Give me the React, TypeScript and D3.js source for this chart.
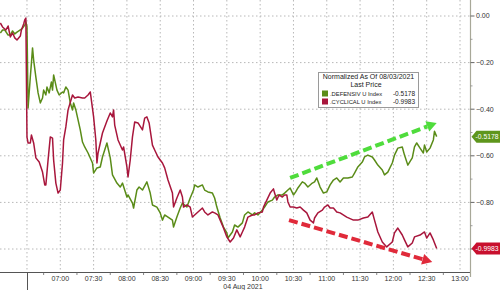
import React from "react";
import * as d3 from "d3";

// .DEFENSIV U Index (green) – [time, normalized value]
const defensiv: [string, number][] = [
  ["06:06", -0.073], ["06:08", -0.06], ["06:10", -0.06], ["06:13", -0.082], ["06:15", -0.082], ["06:17", -0.064],
  ["06:19", -0.077], ["06:21", -0.069], ["06:24", -0.06], ["06:26", -0.052], ["06:28", -0.039], ["06:29", -0.026],
  ["06:30", -0.045], ["06:31", -0.395], ["06:33", -0.262], ["06:34", -0.202], ["06:35", -0.137], ["06:36", -0.189],
  ["06:38", -0.262], ["06:40", -0.33], ["06:42", -0.373], ["06:44", -0.352], ["06:45", -0.318], ["06:47", -0.339],
  ["06:48", -0.305], ["06:50", -0.33], ["06:52", -0.283], ["06:53", -0.318], ["06:54", -0.253], ["06:57", -0.318],
  ["06:59", -0.339], ["07:02", -0.326], ["07:03", -0.33], ["07:05", -0.305], ["07:07", -0.318], ["07:09", -0.373],
  ["07:11", -0.403], ["07:12", -0.373], ["07:14", -0.403], ["07:16", -0.446], ["07:18", -0.489], ["07:20", -0.541],
  ["07:22", -0.562], ["07:25", -0.588], ["07:29", -0.631], ["07:30", -0.674], ["07:33", -0.652], ["07:36", -0.648],
  ["07:38", -0.605], ["07:42", -0.545], ["07:45", -0.609], ["07:47", -0.682], ["07:51", -0.717], ["07:54", -0.734],
  ["07:56", -0.717], ["08:00", -0.777], ["08:01", -0.768], ["08:05", -0.803], ["08:06", -0.824], ["08:09", -0.747],
  ["08:11", -0.734], ["08:14", -0.747], ["08:18", -0.712], ["08:21", -0.76], ["08:23", -0.811], ["08:27", -0.82],
  ["08:30", -0.845], ["08:32", -0.876], ["08:34", -0.854], ["08:37", -0.863], ["08:41", -0.876], ["08:42", -0.906],
  ["08:45", -0.863], ["08:48", -0.824], ["08:50", -0.803], ["08:54", -0.82], ["08:57", -0.781], ["09:00", -0.747],
  ["09:01", -0.725], ["09:04", -0.734], ["09:08", -0.725], ["09:10", -0.747], ["09:13", -0.755], ["09:17", -0.76],
  ["09:19", -0.781], ["09:21", -0.82], ["09:24", -0.867], ["09:27", -0.906], ["09:30", -0.931], ["09:31", -0.953],
  ["09:35", -0.927], ["09:37", -0.897], ["09:40", -0.906], ["09:44", -0.888], ["09:46", -0.854], ["09:49", -0.841],
  ["09:53", -0.854], ["09:55", -0.845], ["09:58", -0.854], ["10:02", -0.833], ["10:04", -0.82], ["10:07", -0.798],
  ["10:11", -0.79], ["10:13", -0.777], ["10:16", -0.768], ["10:20", -0.768], ["10:22", -0.76], ["10:25", -0.747],
  ["10:27", -0.738], ["10:30", -0.768], ["10:32", -0.755], ["10:34", -0.738], ["10:38", -0.712], ["10:40", -0.717],
  ["10:43", -0.734], ["10:47", -0.717], ["10:49", -0.712], ["10:51", -0.695], ["10:54", -0.734], ["10:57", -0.76],
  ["11:00", -0.755], ["11:03", -0.725], ["11:06", -0.704], ["11:09", -0.695], ["11:12", -0.712], ["11:15", -0.695],
  ["11:19", -0.695], ["11:23", -0.691], ["11:25", -0.674], ["11:28", -0.648], ["11:32", -0.627], ["11:34", -0.605],
  ["11:37", -0.597], ["11:41", -0.605], ["11:43", -0.618], ["11:46", -0.64], ["11:50", -0.661], ["11:52", -0.682],
  ["11:55", -0.67], ["11:59", -0.631], ["12:01", -0.597], ["12:04", -0.567], ["12:08", -0.562], ["12:10", -0.597],
  ["12:13", -0.64], ["12:17", -0.609], ["12:19", -0.562], ["12:21", -0.545], ["12:24", -0.567], ["12:27", -0.588],
  ["12:28", -0.554], ["12:30", -0.584], ["12:33", -0.567], ["12:36", -0.532], ["12:37", -0.495], ["12:39", -0.5178],
];

// .CYCLICAL U Index (red) – [time, normalized value]
const cyclical: [string, number][] = [
  ["06:06", -0.03], ["06:08", -0.047], ["06:11", -0.06], ["06:13", -0.043], ["06:15", -0.09], ["06:17", -0.073],
  ["06:19", -0.094], ["06:21", -0.103], ["06:24", -0.086], ["06:25", -0.06], ["06:27", -0.034], ["06:28", -0.017],
  ["06:29", -0.009], ["06:30", -0.52], ["06:31", -0.545], ["06:33", -0.545], ["06:34", -0.511], ["06:36", -0.545],
  ["06:38", -0.609], ["06:41", -0.627], ["06:44", -0.67], ["06:46", -0.725], ["06:47", -0.725], ["06:49", -0.618],
  ["06:51", -0.519], ["06:53", -0.524], ["06:54", -0.618], ["06:56", -0.717], ["06:58", -0.76], ["07:00", -0.747],
  ["07:02", -0.631], ["07:03", -0.532], ["07:05", -0.476], ["07:07", -0.403], ["07:11", -0.339], ["07:13", -0.352],
  ["07:16", -0.348], ["07:20", -0.352], ["07:22", -0.352], ["07:25", -0.339], ["07:27", -0.326], ["07:28", -0.361],
  ["07:30", -0.433], ["07:32", -0.532], ["07:33", -0.631], ["07:34", -0.588], ["07:36", -0.545], ["07:38", -0.502],
  ["07:42", -0.451], ["07:45", -0.416], ["07:47", -0.433], ["07:48", -0.403], ["07:49", -0.468], ["07:52", -0.532],
  ["07:56", -0.575], ["07:57", -0.562], ["08:00", -0.648], ["08:01", -0.691], ["08:03", -0.618], ["08:05", -0.519],
  ["08:07", -0.455], ["08:10", -0.459], ["08:14", -0.489], ["08:16", -0.438], ["08:18", -0.433], ["08:20", -0.459],
  ["08:23", -0.554], ["08:25", -0.575], ["08:28", -0.605], ["08:32", -0.631], ["08:34", -0.652], ["08:37", -0.704],
  ["08:41", -0.76], ["08:42", -0.82], ["08:45", -0.781], ["08:48", -0.747], ["08:50", -0.777], ["08:51", -0.82],
  ["08:54", -0.811], ["08:57", -0.82], ["08:59", -0.863], ["09:01", -0.854], ["09:04", -0.841], ["09:08", -0.824],
  ["09:10", -0.841], ["09:13", -0.854], ["09:17", -0.841], ["09:19", -0.845], ["09:22", -0.854], ["09:24", -0.876],
  ["09:27", -0.91], ["09:30", -0.948], ["09:33", -0.97], ["09:36", -0.953], ["09:39", -0.918], ["09:42", -0.948],
  ["09:44", -0.927], ["09:46", -0.906], ["09:49", -0.863], ["09:53", -0.854], ["09:55", -0.854], ["09:58", -0.845],
  ["10:02", -0.841], ["10:03", -0.82], ["10:06", -0.79], ["10:09", -0.76], ["10:12", -0.742], ["10:13", -0.76],
  ["10:15", -0.79], ["10:17", -0.768], ["10:20", -0.777], ["10:22", -0.768], ["10:24", -0.768], ["10:25", -0.798],
  ["10:27", -0.82], ["10:30", -0.82], ["10:33", -0.824], ["10:36", -0.82], ["10:39", -0.833], ["10:42", -0.845],
  ["10:45", -0.876], ["10:48", -0.888], ["10:49", -0.867], ["10:52", -0.845], ["10:56", -0.833], ["10:58", -0.82],
  ["11:01", -0.811], ["11:03", -0.824], ["11:06", -0.824], ["11:09", -0.841], ["11:12", -0.845], ["11:18", -0.863],
  ["11:24", -0.876], ["11:28", -0.876], ["11:33", -0.867], ["11:37", -0.863], ["11:41", -0.841], ["11:43", -0.876],
  ["11:46", -0.927], ["11:50", -0.97], ["11:54", -0.991], ["11:59", -0.97], ["12:01", -0.931], ["12:04", -0.91],
  ["12:08", -0.94], ["12:10", -0.961], ["12:13", -0.991], ["12:17", -0.974], ["12:19", -0.948], ["12:24", -0.94],
  ["12:28", -0.927], ["12:30", -0.953], ["12:33", -0.931], ["12:36", -0.961], ["12:39", -0.9983],
];

const xTickLabels = ["07:00", "07:30", "08:00", "08:30", "09:00", "09:30", "10:00", "10:30", "11:00", "11:30", "12:00", "12:30", "13:00"];
const xGridTimes = ["06:30", ...xTickLabels];
const yTicks = [0, -0.2, -0.4, -0.6, -0.8, -1.0];
const yLabelTicks = [0, -0.2, -0.4, -0.6, -0.8]; // -1.00 sits under the last-price tag
const yMinorTicks = [-0.1, -0.3, -0.5, -0.7, -0.9];
const legendTitle = ["Normalized As Of 08/03/2021", "Last Price"];
const seriesNames = [".DEFENSIV U Index", ".CYCLICAL U Index"];
const lastValues = [-0.5178, -0.9983];
const dateLabel = "04 Aug 2021";
const daySplit = "06:30";
// trend arrows [start time, start value, end time, end value]
const greenArrow: [string, number, string, number] = ["10:27", -0.695, "12:39", -0.459];
const redArrow: [string, number, string, number] = ["10:26", -0.876, "12:35", -1.056];

const GREEN = "#5a8c18";
const RED = "#a8163c";
const FONT = "'Liberation Sans', Arial, sans-serif";

const parse = (s: string) => {
  const [h, m, sec] = s.split(":").map(Number);
  return new Date(Date.UTC(2021, 7, 4, h, m, sec || 0));
};

export default function App() {
  const W = 500, H = 290;
  const x = d3.scaleUtc().domain([parse("06:05:42"), parse("13:09:00")]).range([0, 470]);
  const y = d3.scaleLinear().domain([0, -1]).range([16, 249]);
  const axisY = 272.5;
  const rightX = 470.5;

  const line = d3
    .line<[string, number]>()
    .x((d) => x(parse(d[0])))
    .y((d) => y(d[1]));

  const arrow = (a: [string, number, string, number], color: string) => {
    const x1 = x(parse(a[0])), y1 = y(a[1]), x2 = x(parse(a[2])), y2 = y(a[3]);
    const ang = Math.atan2(y2 - y1, x2 - x1);
    const hl = 10, hw = 5.5;
    const bx = x2 - hl * Math.cos(ang), by = y2 - hl * Math.sin(ang);
    const px = -Math.sin(ang), py = Math.cos(ang);
    const head = `${x2},${y2} ${bx + px * hw},${by + py * hw} ${bx - px * hw},${by - py * hw}`;
    return (
      <g>
        <line x1={x1} y1={y1} x2={bx} y2={by} stroke={color} strokeWidth={4} strokeDasharray="9,4" />
        <polygon points={head} fill={color} />
      </g>
    );
  };

  const priceTag = (v: number, color: string, txt: string) => {
    const cy = y(v);
    const h = 12;
    const pts = `${rightX + 1},${cy} ${rightX + 6},${cy - h / 2} ${W},${cy - h / 2} ${W},${cy + h / 2} ${rightX + 6},${cy + h / 2}`;
    return (
      <g>
        <polygon points={pts} fill={color} />
        <text x={487} y={cy} dy="0.35em" fill="#fff" fontSize={6.8} textAnchor="middle" fontFamily={FONT}>
          {txt}
        </text>
      </g>
    );
  };

  const quarterTicks: Date[] = [];
  for (let t = parse("06:45").getTime(); t <= parse("13:00").getTime(); t += 30 * 60000) quarterTicks.push(new Date(t));

  return (
    <svg width={W} height={H} style={{ position: "absolute", left: 0, top: 0, background: "#fff" }}>
      <rect width={W} height={H} fill="#fff" />
      {/* grid */}
      {yTicks.map((v) => (
        <line key={"hg" + v} x1={0} x2={rightX} y1={y(v)} y2={y(v)} stroke="#b8b8b8" strokeWidth={1} strokeDasharray="1.5,2.5" />
      ))}
      {xGridTimes.map((t) => (
        <line key={"vg" + t} x1={x(parse(t))} x2={x(parse(t))} y1={0} y2={axisY} stroke="#b8b8b8" strokeWidth={1} strokeDasharray="1.5,2.5" />
      ))}

      {/* series */}
      <path d={line(defensiv) || ""} fill="none" stroke={GREEN} strokeWidth={1.5} strokeLinejoin="round" />
      <path d={line(cyclical) || ""} fill="none" stroke={RED} strokeWidth={1.5} strokeLinejoin="round" />

      {/* arrows */}
      {arrow(greenArrow, "#4fdc3c")}
      {arrow(redArrow, "#e02a3a")}

      {/* legend */}
      <rect x={318.5} y={72.5} width={100} height={35} fill="#fff" stroke="#9a9a9a" strokeWidth={1} />
      <text x={368.5} y={79} fontSize={7} fontFamily={FONT} textAnchor="middle" fill="#222">{legendTitle[0]}</text>
      <text x={366} y={87} fontSize={7} fontFamily={FONT} textAnchor="middle" fill="#222">{legendTitle[1]}</text>
      {seriesNames.map((n, i) => (
        <g key={n}>
          <rect x={322} y={90.5 + i * 8} width={6} height={6} fill={i === 0 ? GREEN : RED} />
          <text x={330} y={96 + i * 8} fontSize={5.8} fontFamily={FONT} fill="#222">{n}</text>
          <text x={415} y={96 + i * 8} fontSize={6.5} fontFamily={FONT} fill="#222" textAnchor="end">
            {lastValues[i].toFixed(4)}
          </text>
        </g>
      ))}

      {/* x axis */}
      <line x1={0} x2={rightX} y1={axisY} y2={axisY} stroke="#555" strokeWidth={1} />
      <line x1={Math.round(x(parse(daySplit))) + 0.5} x2={Math.round(x(parse(daySplit))) + 0.5} y1={axisY} y2={H} stroke="#555" strokeWidth={1} />
      {quarterTicks.map((t) => (
        <line key={"qt" + t.getTime()} x1={x(t)} x2={x(t)} y1={axisY} y2={axisY + 2.5} stroke="#666" strokeWidth={0.8} />
      ))}
      {xTickLabels.map((t) => (
        <text key={"xl" + t} x={x(parse(t))} y={280.5} fontSize={7} fontFamily={FONT} textAnchor="middle" fill="#333">
          {t}
        </text>
      ))}
      <text x={243} y={289} fontSize={7} fontFamily={FONT} textAnchor="middle" fill="#333">{dateLabel}</text>

      {/* y axis (right) */}
      <line x1={rightX} x2={rightX} y1={0} y2={277} stroke="#a8a898" strokeWidth={1.2} />
      {yMinorTicks.map((v) => (
        <line key={"ym" + v} x1={rightX} x2={rightX + 2} y1={y(v)} y2={y(v)} stroke="#888" strokeWidth={0.8} />
      ))}
      {yTicks.map((v) => (
        <line key={"yt" + v} x1={rightX} x2={rightX + 4} y1={y(v)} y2={y(v)} stroke="#666" strokeWidth={1} />
      ))}
      {yLabelTicks.map((v) => (
        <text key={"yl" + v} x={476} y={y(v)} dy="0.35em" fontSize={7} fontFamily={FONT} fill="#333">
          {d3.format(".2f")(v)}
        </text>
      ))}
      {priceTag(lastValues[0], "#5e961c", lastValues[0].toFixed(4))}
      {priceTag(lastValues[1], "#c8102e", lastValues[1].toFixed(4))}
    </svg>
  );
}
